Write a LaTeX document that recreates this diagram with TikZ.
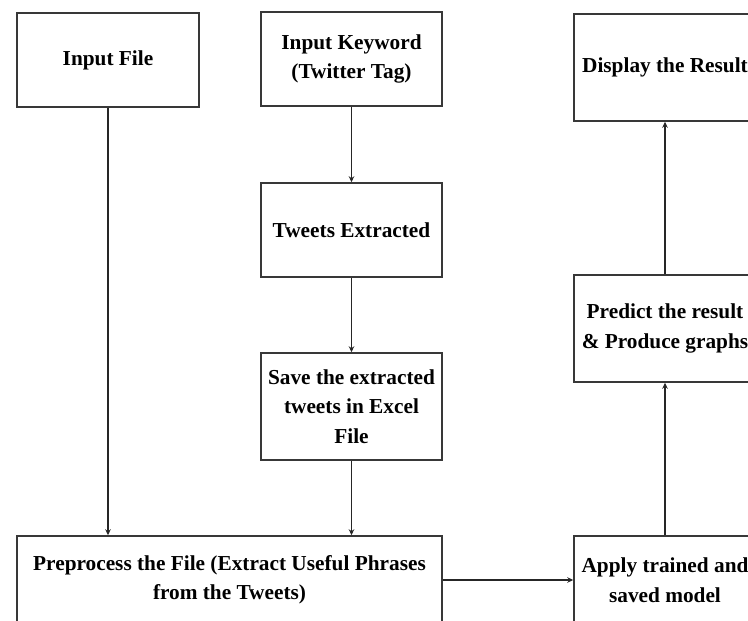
\documentclass[tikz,border=0pt]{standalone}
\usepackage{fontspec}
\setmainfont{Liberation Serif}
\usetikzlibrary{arrows.meta}
\begin{document}
\begin{tikzpicture}[x=1pt,y=-1pt,
  box/.style={draw=black!78, line width=1.5pt, align=center, text=black,
    font=\fontsize{21.3}{29.5}\selectfont\bfseries, inner sep=0pt, minimum width=181pt},
  arr/.style={draw=black!85, line width=1.3pt, -{Stealth[length=6pt,width=5.5pt]}}]
\useasboundingbox (0,0) rectangle (748,621);
\clip (0,0) rectangle (748,621);
\node[box, minimum width=182pt, minimum height=94pt] (file) at (108,60) {Input File};
\node[box, minimum height=94pt] (key) at (351.5,59) {Input Keyword\\(Twitter Tag)};
\node[box, minimum height=94pt] (tw) at (351.5,230) {Tweets Extracted};
\node[box, minimum height=107pt] (save) at (351.5,406.5) {Save the extracted\\tweets in Excel\\File};
\node[box, minimum width=425pt, minimum height=88pt] (pre) at (229.5,580) {Preprocess the File (Extract Useful Phrases\\from the Tweets)};
\node[box, minimum width=182pt, minimum height=88pt] (app) at (665,580) {Apply trained and\\saved model};
\node[box, minimum width=182pt, minimum height=107pt] (pred) at (665,328.5) {Predict the result\\\&{} Produce graphs};
\node[box, minimum width=182pt, minimum height=107pt] (disp) at (665,67.5) {Display the Result};
\draw[arr] (file.south) -- (file.south |- pre.north);
\draw[arr] (key) -- (tw);
\draw[arr] (tw) -- (save);
\draw[arr] (save.south) -- (save.south |- pre.north);
\draw[arr] (pre) -- (app);
\draw[arr] (app) -- (pred);
\draw[arr] (pred) -- (disp);
\end{tikzpicture}
\end{document}
